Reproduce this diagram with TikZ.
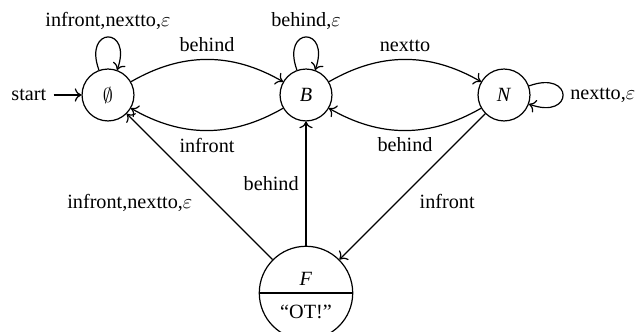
\documentclass[tikz,border=0pt]{standalone}
\usepackage{fontspec}
\setmainfont{Liberation Serif}
\usetikzlibrary{automata,shapes.multipart,arrows.meta}
\begin{document}
\begin{tikzpicture}[x=0.495pt,y=0.495pt,>={To[length=3.3pt,width=6.6pt]},auto,semithick,
  every state/.style={draw,minimum size=25.7pt,inner sep=0pt},
  selfup/.style={out=110,in=70,looseness=6.6,min distance=5mm},
  selfright/.style={out=20,in=-20,looseness=6.8,min distance=5mm},
  initial text=start]
\useasboundingbox (0,0) rectangle (636,-332);
\node[state,initial] (Z) at (108,-95) {$\emptyset$};
\node[state] (B) at (306,-95) {\textit{B}};
\node[state] (N) at (504,-95) {\textit{N}};
\node[state with output,minimum size=43.6pt,inner sep=3.5pt] (F) at (306,-293) {\textit{F} \nodepart{lower} \rule{0pt}{9pt}“OT!”};
\path[->]
 (Z) edge[selfup] node {infront,nextto,$\varepsilon$} (Z)
     edge[bend left] node {behind} (B)
 (B) edge[selfup] node {behind,$\varepsilon$} (B)
     edge[bend left] node {infront} (Z)
     edge[bend left] node {nextto} (N)
 (N) edge[selfright] node {nextto,$\varepsilon$} (N)
     edge[bend left] node {behind} (B)
     edge node {infront} (F)
 (F) edge node {infront,nextto,$\varepsilon$} (Z)
     edge node {behind} (B);
\end{tikzpicture}
\end{document}
